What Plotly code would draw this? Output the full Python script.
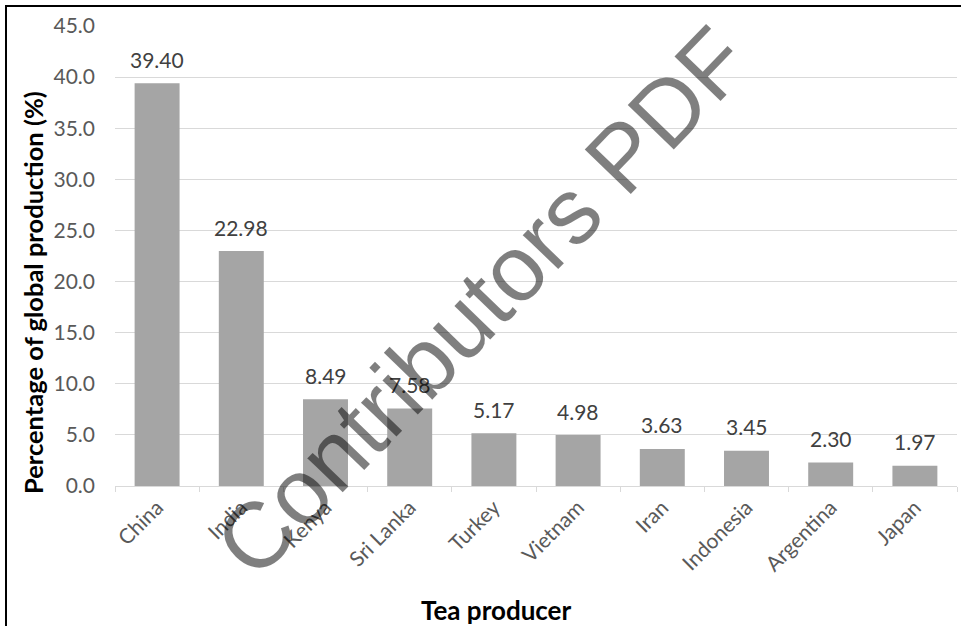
import plotly.graph_objects as go

# Share of global tea production by producing country
producers = ["China", "India", "Kenya", "Sri Lanka", "Turkey", "Vietnam",
             "Iran", "Indonesia", "Argentina", "Japan"]
share_pct = [39.40, 22.98, 8.49, 7.58, 5.17, 4.98, 3.63, 3.45, 2.30, 1.97]

y_ticks = [0, 5, 10, 15, 20, 25, 30, 35, 40, 45]

W, H = 961, 626
ML, MR, MT, MB = 115, 4, 26, 140
PW, PH = W - ML - MR, H - MT - MB


def px_x(x):
    return (x - ML) / PW


def px_y(y):
    return 1 - (y - MT) / PH


TICK_FONT = "Lato, 'Open Sans', sans-serif"
TICK_COLOR = "#595959"
GRID = "#d9d9d9"

fig = go.Figure(
    go.Bar(
        x=producers,
        y=share_pct,
        marker=dict(color="#a5a5a5", line=dict(width=0)),
        hoverinfo="x+y",
    )
)

annotations = []
for name, v in zip(producers, share_pct):
    annotations.append(dict(
        x=name, y=v, xref="x", yref="y",
        text=f"{v:.2f}", showarrow=False,
        yanchor="middle", yshift=24,
        font=dict(family=TICK_FONT, size=21, color="#404040"),
    ))

# axis titles
annotations.append(dict(
    x=px_x(33), y=px_y(293), xref="paper", yref="paper",
    text="<b>Percentage of global production (%)</b>", showarrow=False,
    textangle=-90, xanchor="center", yanchor="middle",
    font=dict(family=TICK_FONT, size=25.5, color="#000000"),
))
annotations.append(dict(
    x=px_x(496), y=px_y(610), xref="paper", yref="paper",
    text="<b>Tea producer</b>", showarrow=False,
    xanchor="center", yanchor="middle",
    font=dict(family=TICK_FONT, size=26, color="#000000"),
))

# diagonal watermark
annotations.append(dict(
    x=px_x(482), y=px_y(302), xref="paper", yref="paper",
    text="Contributors PDF", showarrow=False,
    textangle=-46, xanchor="center", yanchor="middle",
    font=dict(family="'Liberation Sans', Arial, sans-serif", size=93,
              color="rgba(0,0,0,0.5)"),
))

frame = dict(color="#000000", width=2)

fig.update_layout(
    width=W, height=H,
    margin=dict(l=ML, r=MR, t=MT, b=MB, pad=0),
    paper_bgcolor="white",
    plot_bgcolor="white",
    showlegend=False,
    bargap=0.466,
    annotations=annotations,
    shapes=[
        dict(type="line", xref="paper", yref="paper",
             x0=px_x(6), x1=px_x(6), y0=px_y(W), y1=px_y(5), line=frame),
        dict(type="line", xref="paper", yref="paper",
             x0=px_x(5), x1=px_x(W + 10), y0=px_y(6), y1=px_y(6), line=frame),
    ],
    xaxis=dict(
        type="category",
        showline=True, linecolor=GRID, linewidth=1,
        showgrid=False,
        ticks="outside", tickson="boundaries", ticklen=5, tickcolor=GRID,
        tickangle=-45,
        tickfont=dict(family=TICK_FONT, size=21, color=TICK_COLOR),
        fixedrange=True,
    ),
    yaxis=dict(
        range=[0, 45],
        tickvals=y_ticks,
        tickformat=".1f",
        showgrid=True, gridcolor=GRID, gridwidth=1,
        zeroline=False, showline=False, ticks="",
        ticklabelstandoff=19,
        tickfont=dict(family=TICK_FONT, size=21, color=TICK_COLOR),
        fixedrange=True,
    ),
)

fig.write_html("out.html")
